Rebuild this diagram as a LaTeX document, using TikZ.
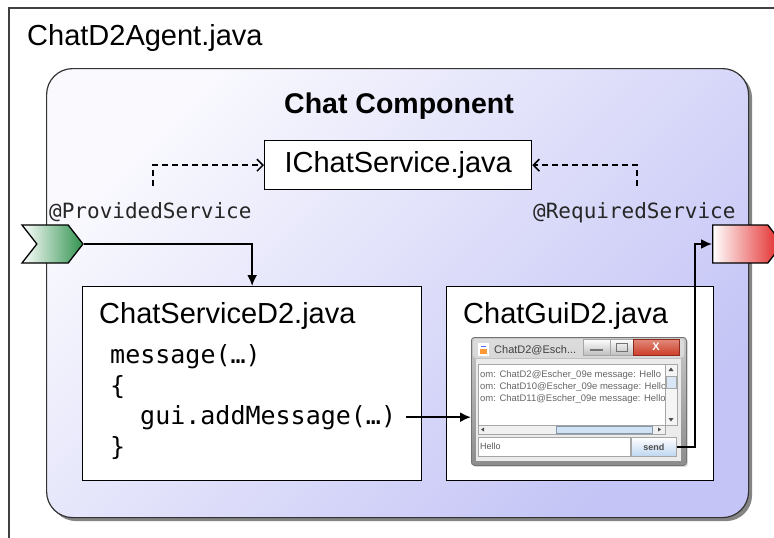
\documentclass[tikz,border=0pt]{standalone}
\usepackage{fontspec}
\setmainfont{Liberation Sans}
\setmonofont{DejaVu Sans Mono}
\usetikzlibrary{shapes,arrows,arrows.meta,positioning,calc,shadows}
\definecolor{compwhite}{RGB}{249,249,254}
\definecolor{complav}{RGB}{196,196,246}
\definecolor{provgreen}{RGB}{48,146,78}
\definecolor{reqred}{RGB}{226,34,34}
\definecolor{winblue}{RGB}{190,214,240}
\definecolor{closered}{RGB}{205,62,40}

\begin{document}
\begin{tikzpicture}[x=1pt, y=-1pt,
    box/.style={draw, line width=1.3pt, fill=white, inner sep=0pt, anchor=north west},
    heading/.style={font=\fontsize{29}{34}\selectfont, inner sep=0pt, anchor=base west},
    codeline/.style={font=\ttfamily\fontsize{25}{30}\selectfont, inner sep=0pt, anchor=base west},
    anno/.style={font=\ttfamily\fontsize{21}{25}\selectfont, inner sep=0pt, anchor=base west, text=black!85},
    flow/.style={line width=1.8pt, -{Latex[length=11pt,width=10pt]}},
    dep/.style={line width=1.5pt, dash pattern=on 6pt off 4pt, -{Straight Barb[length=6pt,width=12pt]}},
    port/.style={draw, line width=1.3pt, signal, inner sep=0pt, minimum height=38pt, signal pointer angle=104},
    winpart/.style={draw=black!35, line width=0.6pt}]
    \useasboundingbox (0,0) rectangle (774,538);
    \fill[white] (0,0) rectangle (774,538);

    % agent frame
    \draw[line width=1.2pt, black!75] (9,545) -- (9,8) -- (780,8);
    \node[heading] (agent) at (27,45) {ChatD2Agent.java};

    % component
    \node[draw=black!80, line width=1.2pt, rounded corners=26pt, anchor=north west,
          minimum width=702pt, minimum height=449pt, inner sep=0pt,
          top color=compwhite, bottom color=complav, shading angle=45,
          drop shadow={shadow xshift=3.5pt, shadow yshift=-3.5pt, fill=black!60, opacity=0.8}]
          (comp) at (46,68) {};
    \node[font=\bfseries\fontsize{28.5}{34}\selectfont, inner sep=0pt, anchor=base] (comptitle) at (399,113) {Chat Component};

    % service interface
    \node[box, minimum width=267pt, minimum height=49pt, font=\fontsize{29}{34}\selectfont] (iface) at (264,140) {IChatService.java};

    % ports
    \node[anno] (provlbl) at (49,218) {@ProvidedService};
    \node[anno] (reqlbl) at (533,218) {@RequiredService};
    \node[port, signal from=west, signal to=east, minimum width=61pt, left color=white, right color=provgreen] (prov) at (52.5,244) {};
    \node[port, signal from=nowhere, signal to=east, minimum width=70pt, anchor=west, left color=white, right color=reqred] (req) at (712,244) {};
    \coordinate (provdep) at (153,186);
    \coordinate (reqdep) at (637,186);
    \draw[dep] (provdep) |- (iface.west);
    \draw[dep] (reqdep) |- (iface.east);

    % service implementation
    \node[box, minimum width=339pt, minimum height=194pt] (svc) at (82,286) {};
    \node[heading] (svctitle) at (99,323) {ChatServiceD2.java};
    \node[codeline] (sig) at (110,363) {message(…)};
    \node[codeline] (open) at (110,394) {\{};
    \node[codeline] (addmsg) at (140,424) {gui.addMessage(…)};
    \node[codeline] (close) at (110,455) {\}};

    % gui
    \node[box, minimum width=267pt, minimum height=194pt] (gui) at (446,286) {};
    \node[heading] (guititle) at (463,323) {ChatGuiD2.java};

    % chat window
    \node[draw=black!55, line width=0.8pt, rounded corners=3pt, anchor=north west, inner sep=0pt,
          minimum width=215pt, minimum height=128pt, top color=black!22, bottom color=black!45,
          drop shadow={shadow xshift=1.5pt, shadow yshift=-1.5pt, fill=black!30}] (win) at (471,337) {};
    \fill[white, opacity=0.4, rounded corners=3pt] (473,339) rectangle (684,358);
    \fill[white] (478,343) rectangle (489,356);
    \fill[orange!80] (480,349) rectangle (487,354);
    \draw[blue!60, line width=0.6pt] (481,346) -- (486,346);
    \node[font=\fontsize{11}{13}\selectfont, text=black!75, anchor=west, inner sep=0pt] (wintitle) at (494,350) {ChatD2@Esch...};
    \shade[winpart, top color=white, bottom color=black!25] (583,339) rectangle (610,355);
    \draw[black!55, line width=1.6pt] (590,350) -- (603,350);
    \shade[winpart, top color=white, bottom color=black!25] (610,339) rectangle (633,355);
    \draw[black!55, line width=0.8pt] (616,343) rectangle (627,351);
    \shade[draw=closered!70!black, line width=0.6pt, top color=closered!60, bottom color=closered] (633,339) rectangle (679,355);
    \node[font=\bfseries\fontsize{11}{13}\selectfont, text=white, inner sep=0pt] (closex) at (656,347) {X};
    \fill[black!8] (476,359) rectangle (681,461);
    % message area
    \draw[winpart, fill=white] (478,364) rectangle (665,425);
    \begin{scope}
        \clip (479,365) rectangle (664,424);
        \node[font=\fontsize{9.5}{11}\selectfont, text=black!60, anchor=base west, inner sep=0pt] (msga) at (480,377) {om: ChatD2@Escher\_09e message: Hello};
        \node[font=\fontsize{9.5}{11}\selectfont, text=black!60, anchor=base west, inner sep=0pt] (msgb) at (480,389) {om: ChatD10@Escher\_09e message: Hello};
        \node[font=\fontsize{9.5}{11}\selectfont, text=black!60, anchor=base west, inner sep=0pt] (msgc) at (480,401) {om: ChatD11@Escher\_09e message: Hello};
    \end{scope}
    \draw[winpart, fill=black!4] (665,364) rectangle (677,425);
    \draw[winpart, fill=winblue!60] (666,376) rectangle (676,388);
    \fill[black!70] (668.5,371) -- (673.5,371) -- (671,367.5) -- cycle;
    \fill[black!70] (668.5,418) -- (673.5,418) -- (671,421.5) -- cycle;
    \draw[winpart, fill=black!6] (478,425) rectangle (665,434);
    \draw[draw=winblue!70!black, line width=0.6pt, fill=winblue!70] (556,426) rectangle (652,433);
    \fill[black!70] (484,427.5) -- (484,431.5) -- (481,429.5) -- cycle;
    \fill[black!70] (658,427.5) -- (658,431.5) -- (661,429.5) -- cycle;
    % input line
    \draw[winpart, fill=white] (478,437) rectangle (630,456);
    \node[font=\fontsize{9}{11}\selectfont, text=black!65, anchor=west, inner sep=0pt] (input) at (480,446.5) {Hello};
    \node[draw=black!35, line width=0.6pt, anchor=north west, inner sep=0pt, minimum width=45pt, minimum height=19pt,
          top color=white, bottom color=winblue, font=\bfseries\fontsize{9}{11}\selectfont, text=black!70] (send) at (631,437) {send};

    % calls
    \draw[flow] (prov.east) -| (svc.north);
    \draw[flow] ([xshift=10pt]addmsg.east) -- (addmsg.east -| win.west);
    \draw[flow] (send.east) -- ++(18,0) |- (req.west);
\end{tikzpicture}
\end{document}
